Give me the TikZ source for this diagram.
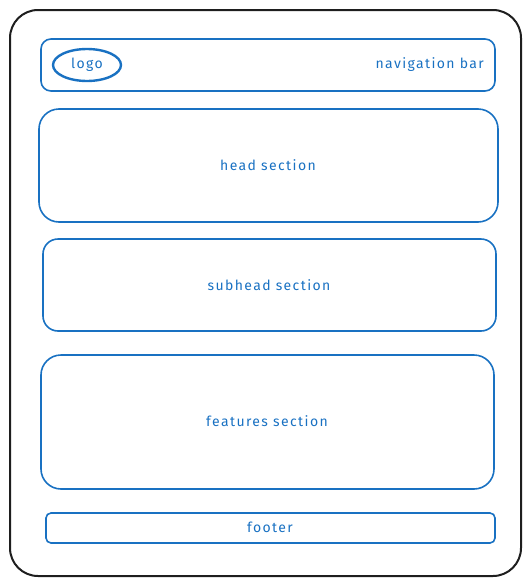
\documentclass[tikz,border=0pt]{standalone}
\usepackage{fontspec}
\setmainfont{Fira Sans}[LetterSpace=10]
\usetikzlibrary{shapes.geometric}
\definecolor{exblue}{HTML}{1971C2}
\definecolor{exblack}{HTML}{1E1E1E}
\begin{document}
\begin{tikzpicture}[x=1pt,y=-1pt,
  frame/.style={draw=exblack,line width=2pt},
  box/.style={draw=exblue,line width=1.6pt},
  lbl/.style={text=exblue,font=\fontsize{14}{16}\selectfont,inner sep=0pt}]
\useasboundingbox (0,0) rectangle (531,584);
\draw[frame,rounded corners=28pt] (10,10) rectangle (521,576);
\draw[box,rounded corners=10pt] (41,39) rectangle (495,91);
\node[box,line width=2.4pt,ellipse,minimum width=68pt,minimum height=32pt,inner sep=0pt] (logo) at (87,65) {};
\node[lbl] at (logo) {logo};
\node[lbl,anchor=east] (nav) at (484,65) {navigation bar};
\draw[box,rounded corners=20pt] (39,109) rectangle (498,222);
\node[lbl] (head) at (268,165) {head section};
\draw[box,rounded corners=15pt] (43,239) rectangle (496,331);
\node[lbl] (sub) at (269,285) {subhead section};
\draw[box,rounded corners=20pt] (41,355) rectangle (494,489);
\node[lbl] (feat) at (267,421) {features section};
\draw[box,rounded corners=5pt] (46,513) rectangle (495,543);
\node[lbl] (foot) at (270,527) {footer};
\end{tikzpicture}
\end{document}
